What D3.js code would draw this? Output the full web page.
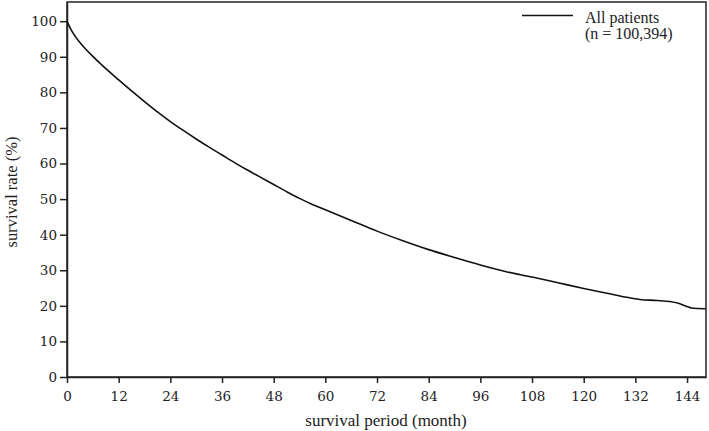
<!DOCTYPE html>
<html>
<head>
<meta charset="utf-8">
<script src="https://cdn.jsdelivr.net/npm/d3@7"></script>
<style>
  body { margin: 0; background: #fff; }
  text { font-family: "Liberation Serif", "Times New Roman", serif; fill: #222; }
</style>
</head>
<body>
<div id="chart"></div>
<script>
// survival curve (months, % surviving)
var months = [0, 0.5, 1, 2, 3, 4, 6, 8, 10, 12, 15, 18, 21, 24, 27, 30, 33, 36, 39, 42, 45,
              48, 51, 54, 57, 60, 66, 72, 78, 84, 90, 96, 102, 108, 114, 120, 126, 130,
              133, 137, 140, 142, 144, 145, 148.3];
var survival = [100, 98.7, 97.5, 95.6, 94.0, 92.6, 90.1, 87.8, 85.6, 83.5, 80.4, 77.4, 74.5,
                71.8, 69.3, 66.9, 64.6, 62.4, 60.2, 58.1, 56.1, 54.1, 52.1, 50.2, 48.5,
                47.0, 44.0, 41.0, 38.3, 35.8, 33.6, 31.5, 29.6, 28.1, 26.5, 24.9, 23.4,
                22.4, 21.8, 21.5, 21.2, 20.7, 19.8, 19.4, 19.2];
var xTicks = [0, 12, 24, 36, 48, 60, 72, 84, 96, 108, 120, 132, 144];
var yTicks = [0, 10, 20, 30, 40, 50, 60, 70, 80, 90, 100];
var legendLines = ["All patients", "(n = 100,394)"];

var W = 709, H = 431;
var margin = {top: 2, right: 3, bottom: 54, left: 67};
var width = W - margin.left - margin.right,
    height = H - margin.top - margin.bottom;

var svg = d3.select("#chart").append("svg")
    .attr("width", W)
    .attr("height", H);
var g = svg.append("g")
    .attr("transform", "translate(" + margin.left + "," + margin.top + ")");

var x = d3.scaleLinear().domain([0, 148.4]).range([0, width]);
var y = d3.scaleLinear().domain([0, 105.4]).range([height, 0]);

// frame
g.append("rect")
    .attr("x", 0).attr("y", 0)
    .attr("width", width).attr("height", height)
    .attr("fill", "none")
    .attr("stroke", "#222")
    .attr("stroke-width", 1.5);

var xAxis = g.append("g")
    .attr("transform", "translate(0," + height + ")")
    .call(d3.axisBottom(x).tickValues(xTicks).tickSize(6).tickPadding(8).tickSizeOuter(0));
var yAxis = g.append("g")
    .call(d3.axisLeft(y).tickValues(yTicks).tickSize(7).tickPadding(3).tickSizeOuter(0));

[xAxis, yAxis].forEach(function(a) {
  a.attr("font-family", null);
  a.select(".domain").attr("stroke", "#222").attr("stroke-width", 1.5);
  a.selectAll(".tick line").attr("stroke", "#222").attr("stroke-width", 1.5);
  a.selectAll(".tick text")
    .style("font-family", "'DejaVu Serif', serif")
    .style("font-size", "13.5px")
    .attr("fill", "#222");
});

// survival line
var data = months.map(function(m, i) { return {m: m, v: survival[i]}; });
g.append("path")
    .datum(data)
    .attr("fill", "none")
    .attr("stroke", "#111")
    .attr("stroke-width", 1.6)
    .attr("d", d3.line()
        .curve(d3.curveMonotoneX)
        .x(function(d) { return x(d.m); })
        .y(function(d) { return y(d.v); }));

// axis titles
svg.append("text")
    .attr("x", 386)
    .attr("y", 426)
    .attr("text-anchor", "middle")
    .style("font-size", "17px")
    .text("survival period (month)");

svg.append("text")
    .attr("transform", "translate(17,192) rotate(-90)")
    .attr("text-anchor", "middle")
    .style("font-size", "16.5px")
    .text("survival rate (%)");

// legend
var leg = svg.append("g");
leg.append("line")
    .attr("x1", 522).attr("x2", 573)
    .attr("y1", 15.5).attr("y2", 15.5)
    .attr("stroke", "#111")
    .attr("stroke-width", 1.5);
leg.selectAll("text.leg")
    .data(legendLines)
    .enter().append("text")
    .attr("class", "leg")
    .attr("x", 585)
    .attr("y", function(d, i) { return 23 + i * 16; })
    .style("font-size", "16px")
    .text(function(d) { return d; });
</script>
</body>
</html>
